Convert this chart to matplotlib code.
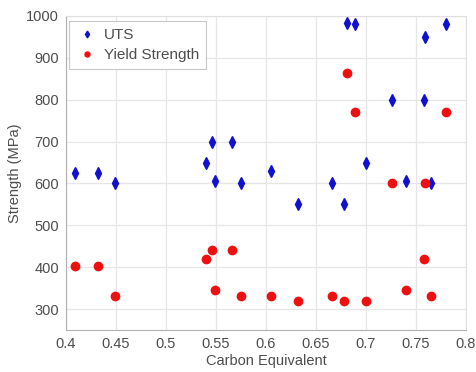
import matplotlib
matplotlib.use("Agg")
import matplotlib.pyplot as plt

# Carbon equivalent of each specimen with its measured strengths (MPa)
carbon_equivalent = [0.409, 0.432, 0.449, 0.540, 0.546, 0.549, 0.566, 0.575,
                     0.605, 0.632, 0.666, 0.678, 0.681, 0.689, 0.700, 0.726,
                     0.740, 0.758, 0.759, 0.765, 0.780]
uts = [625, 625, 600, 650, 700, 607, 700, 600,
       630, 550, 600, 550, 983, 981, 650, 800,
       606, 800, 950, 600, 981]
yield_strength = [403, 403, 330, 420, 440, 345, 440, 330,
                  330, 320, 330, 320, 865, 770, 320, 600,
                  345, 420, 600, 330, 770]

x_ticks = [0.4, 0.45, 0.5, 0.55, 0.6, 0.65, 0.7, 0.75, 0.8]
x_tick_labels = ["0.4", "0.45", "0.5", "0.55", "0.6", "0.65", "0.7", "0.75", "0.8"]
y_ticks = [300, 400, 500, 600, 700, 800, 900, 1000]

plt.rcParams["font.family"] = ["Liberation Sans", "DejaVu Sans"]
text_color = "#4d4d4d"

fig = plt.figure(figsize=(4.77, 3.72), dpi=100)
ax = fig.add_axes([0.138, 0.113, 0.839, 0.844])

ax.plot(carbon_equivalent, uts, linestyle="none", marker="d", markersize=5.8,
        color="#1010d0", label="UTS")
ax.plot(carbon_equivalent, yield_strength, linestyle="none", marker="o",
        markersize=6.0, color="#ee1010", label="Yield Strength")

ax.set_xlim(0.4, 0.8)
ax.set_ylim(250, 1000)
ax.set_xticks(x_ticks)
ax.set_xticklabels(x_tick_labels)
ax.set_yticks(y_ticks)

ax.grid(True, color="#e6e6e6", linewidth=0.9)
ax.set_axisbelow(True)
for side in ["top", "right"]:
    ax.spines[side].set_color("#e0e0e0")
for side in ["left", "bottom"]:
    ax.spines[side].set_color("#b0b0b0")
ax.tick_params(axis="both", colors=text_color, labelsize=10.5, length=0, pad=5)

ax.set_xlabel("Carbon Equivalent", color=text_color, fontsize=10.5, labelpad=2)
ax.set_ylabel("Strength (MPa)", color=text_color, fontsize=10.5, labelpad=3)

leg = ax.legend(loc="upper left", fontsize=11, markerscale=0.6,
                handletextpad=0.45, borderpad=0.45, labelspacing=0.4,
                fancybox=False, framealpha=1, handlelength=1.4,
                borderaxespad=0, bbox_to_anchor=(0.008, 0.984))
leg.get_frame().set_edgecolor("#c8c8c8")
leg.get_frame().set_linewidth(0.8)
for t in leg.get_texts():
    t.set_color(text_color)

fig.savefig("out.png", dpi=100)
